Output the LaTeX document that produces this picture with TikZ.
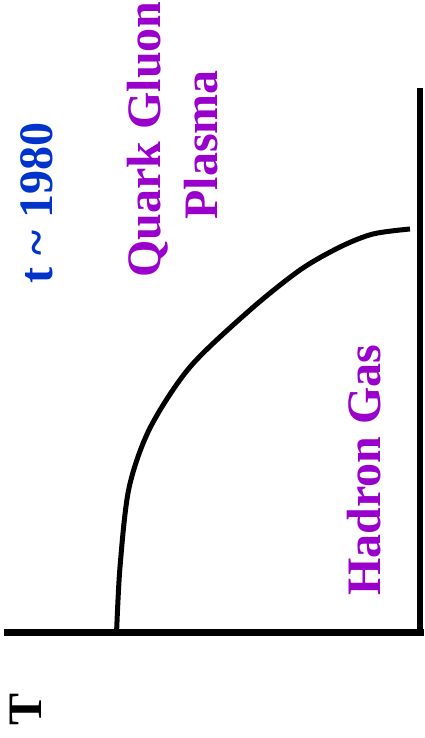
\documentclass[tikz,border=0pt]{standalone}
\usepackage{fontspec}
\setmainfont{Liberation Serif}
\definecolor{yearblue}{RGB}{0,51,204}
\definecolor{phasepurple}{RGB}{153,0,204}
\begin{document}
\begin{tikzpicture}[x=1pt,y=1pt,
  lbl/.style={inner sep=0pt, rotate=90, anchor=base, font=\fontsize{48}{56}\selectfont\bfseries},
  axis/.style={line width=7pt, black},
  curve/.style={line width=5pt, black}]
\useasboundingbox (0,0) rectangle (425,738);
\coordinate (origin) at (4,105);
\coordinate (corner) at (424,105);
\coordinate (cornerv) at (420,101.5);
\coordinate (top) at (420,650);
\draw[axis] (origin) -- (corner);
\draw[line width=6pt] (cornerv) -- (top);
\draw[curve] plot[smooth, tension=0.5] coordinates {(116.5,104) (120,171) (129,250) (150,310) (190,371) (250,428) (300,468) (340,491) (373,504) (410,509)};
\node[lbl, text=yearblue] (year) at (52,535) {t \char`\~{} 1980};
\node[lbl, text=phasepurple] (qgp1) at (160,598.5) {Quark Gluon};
\node[lbl, text=phasepurple] (qgp2) at (217,593) {Plasma};
\node[lbl, text=phasepurple] (hadron) at (380,268) {Hadron Gas};
\node[lbl, text=black] (tlabel) at (41,29) {T};
\end{tikzpicture}
\end{document}
